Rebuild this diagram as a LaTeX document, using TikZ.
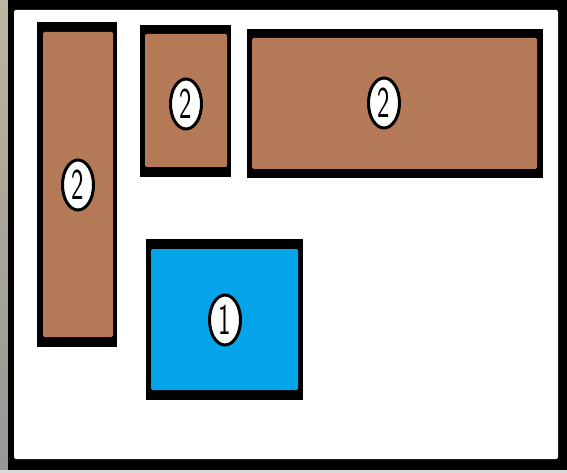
\documentclass[tikz,border=0pt]{standalone}
\usetikzlibrary{shapes.geometric}
\usepackage{graphicx}
\definecolor{brownfill}{RGB}{180,122,87}
\definecolor{bluefill}{RGB}{5,164,234}
\definecolor{photoA}{RGB}{190,180,160}
\definecolor{photoB}{RGB}{150,150,148}
\begin{document}
\begin{tikzpicture}[x=1pt,y=-1pt,
  oval/.style={ellipse,draw=black,fill=white,line width=3pt,minimum width=31pt,minimum height=50pt,inner sep=0pt,
    font=\fontsize{44}{44}\sffamily},
  outerbox/.style={fill=black},
  brownbox/.style={fill=brownfill,rounded corners=1.5pt},
  bluebox/.style={fill=bluefill,rounded corners=1.5pt}]
\useasboundingbox (0,0) rectangle (567,473);
% photo background strips
\shade[top color=photoA,bottom color=photoB] (0,0) rectangle (9,473);
\fill[black!15] (0,470) rectangle (567,473);
% frame
\fill[black] (8,0) rectangle (567,470);
\fill[white,rounded corners=2pt] (14,10) rectangle (558,459);
% left tall
\fill[outerbox] (37,22) rectangle (117,347);
\fill[brownbox] (43,32) rectangle (113,337);
% small
\fill[outerbox] (140,25) rectangle (231,177);
\fill[brownbox] (145,34) rectangle (227,167);
% wide
\fill[outerbox] (247,29) rectangle (543,178);
\fill[brownbox] (252,38) rectangle (537,169);
% blue
\fill[outerbox] (146,239) rectangle (303,400);
\fill[bluebox] (151,249) rectangle (298,390);
% labels
\node[oval] (la) at (78,185) {\scalebox{0.6}[1]{2}};
\node[oval] (lb) at (186,104) {\scalebox{0.6}[1]{2}};
\node[oval] (lc) at (384,103) {\scalebox{0.6}[1]{2}};
\node[oval] (ld) at (225,320) {\scalebox{0.6}[1]{1}};
\end{tikzpicture}
\end{document}
